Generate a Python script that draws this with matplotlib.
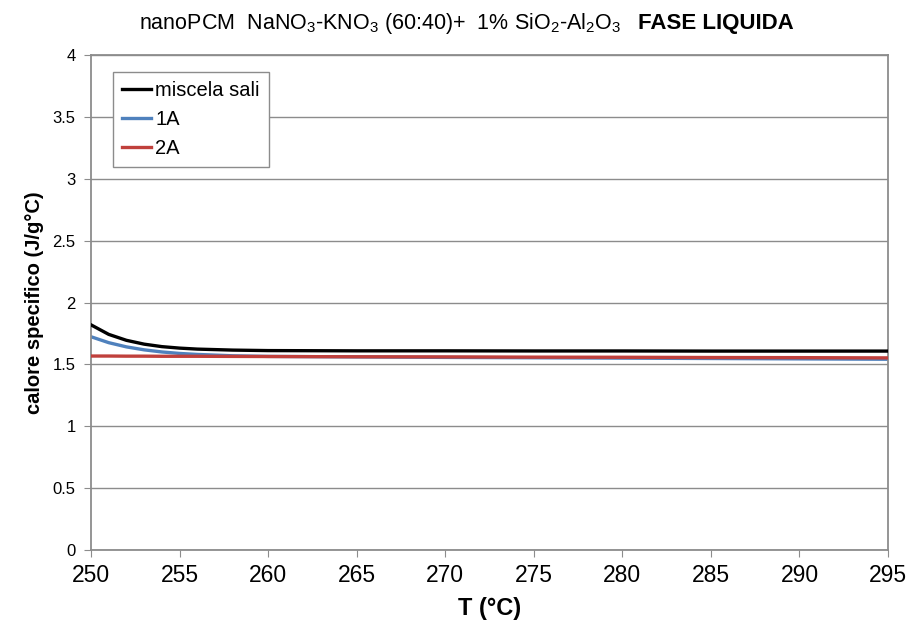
import matplotlib
matplotlib.use("Agg")
import matplotlib.pyplot as plt
import numpy as np

plt.rcParams['font.family'] = ['Liberation Sans', 'DejaVu Sans']
plt.rcParams['mathtext.fontset'] = 'custom'
plt.rcParams['mathtext.rm'] = 'Liberation Sans'
plt.rcParams['mathtext.it'] = 'Liberation Sans'

T = [250, 251, 252, 253, 254, 255, 256, 258, 260, 265, 270, 275, 280, 285, 290, 295]
miscela_sali = [1.820, 1.743, 1.695, 1.664, 1.644, 1.632, 1.624, 1.616, 1.612, 1.610, 1.610, 1.609, 1.609, 1.608, 1.608, 1.608]
s1A = [1.724, 1.676, 1.642, 1.618, 1.601, 1.589, 1.581, 1.570, 1.565, 1.561, 1.557, 1.554, 1.551, 1.548, 1.545, 1.542]
s2A = [1.568, 1.568, 1.567, 1.567, 1.566, 1.566, 1.566, 1.565, 1.564, 1.562, 1.561, 1.559, 1.558, 1.556, 1.555, 1.553]

fig = plt.figure(figsize=(9.11, 6.33), dpi=100)
ax = fig.add_axes([0.0999, 0.131, 0.8749, 0.782])

ax.plot(T, miscela_sali, color='black', lw=2.4, label='miscela sali', zorder=4)
ax.plot(T, s2A, color='#c0403c', lw=2.4, label='2A', zorder=3)
ax.plot(T, s1A, color='#4f81bd', lw=2.4, label='1A', zorder=2)

ax.set_xlim(250, 295)
ax.set_ylim(0, 4)
ax.set_xticks(np.arange(250, 296, 5))
ax.set_yticks(np.arange(0, 4.01, 0.5))
ax.set_yticklabels(['0', '0.5', '1', '1.5', '2', '2.5', '3', '3.5', '4'])
ax.grid(axis='y', color='#8c8c8c', lw=1.0)
ax.set_axisbelow(True)
for s in ['left', 'bottom', 'right', 'top']:
    ax.spines[s].set_color('#8c8c8c')
    ax.spines[s].set_linewidth(1.3)
ax.tick_params(axis='x', labelsize=16.5, direction='out', length=5, color='#8c8c8c', pad=5)
ax.tick_params(axis='y', labelsize=12, direction='out', length=5, color='#8c8c8c', pad=6)

ax.set_xlabel('T (°C)', fontsize=17, fontweight='bold', labelpad=7)
ax.set_ylabel('calore specifico (J/g°C)', fontsize=14.5, fontweight='bold', labelpad=6)

title_left = 'nanoPCM  NaNO$_3$-KNO$_3$ (60:40)+  1% SiO$_2$-Al$_2$O$_3$   '
t1 = fig.text(0.153, 0.963, title_left, fontsize=15.5, ha='left', va='center')
fig.canvas.draw()
bb = t1.get_window_extent()
fig.text(bb.x1 / fig.bbox.width + 0.004, 0.963, 'FASE LIQUIDA', fontsize=16, fontweight='bold', ha='left', va='center')

handles, labels = ax.get_legend_handles_labels()
order = [0, 2, 1]
leg = ax.legend([handles[i] for i in order], [labels[i] for i in order],
                loc='upper left', bbox_to_anchor=(0.0276, 0.966), fontsize=14.5,
                frameon=True, fancybox=False, edgecolor='#8c8c8c', framealpha=1,
                handlelength=1.45, handletextpad=0.2, labelspacing=0.5, borderpad=0.45,
                borderaxespad=0)
leg.get_frame().set_linewidth(1.0)

fig.savefig('out.png', dpi=100)
